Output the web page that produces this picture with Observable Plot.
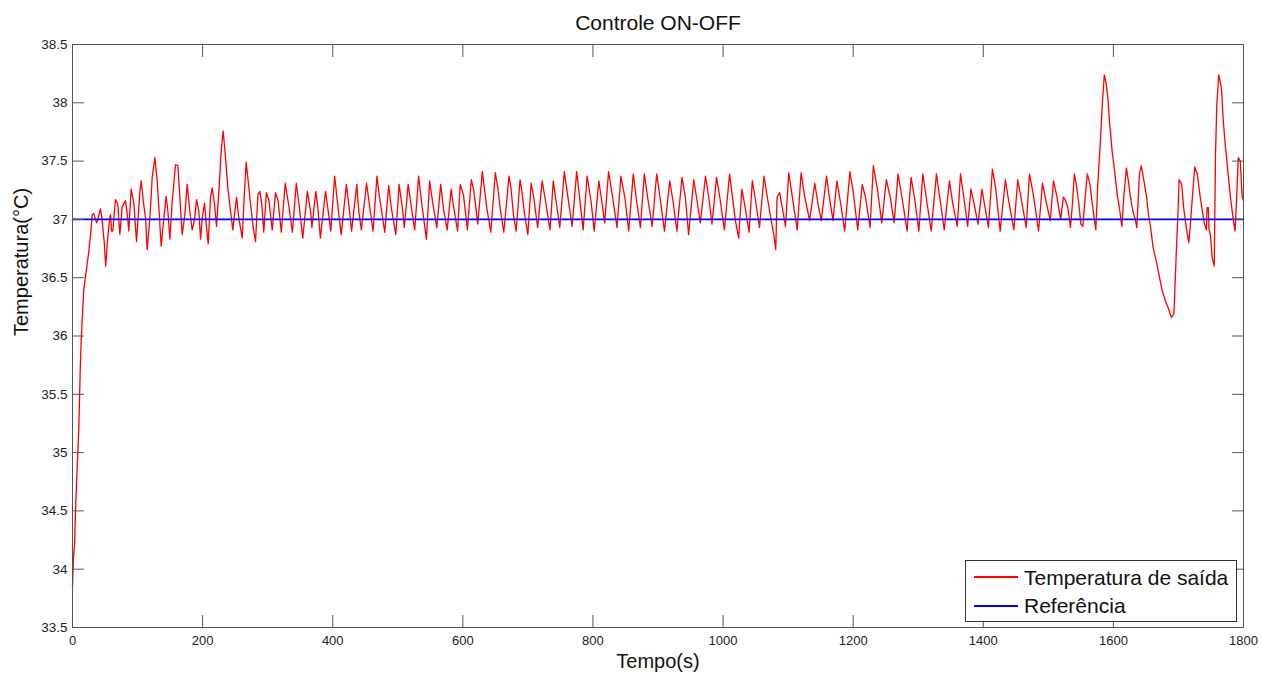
<!DOCTYPE html>
<html>
<head>
<meta charset="utf-8">
<script src="https://cdn.jsdelivr.net/npm/d3@7"></script>
<script src="https://cdn.jsdelivr.net/npm/@observablehq/plot@0.6"></script>
<style>
  body { margin: 0; background: #fff; font-family: "Liberation Sans", Arial, sans-serif; }
  #wrap { position: relative; width: 1262px; height: 675px; overflow: hidden; }
  #legend { position: absolute; left: 965px; top: 560px; width: 272px; height: 62px; box-sizing: border-box;
            border: 1px solid #333; background: #fff; }
  #legend .ln { position: absolute; left: 8px; width: 44px; height: 2px; }
  #legend .tx { position: absolute; left: 58px; font-size: 21px; line-height: 21px; color: #111; white-space: nowrap; }
</style>
</head>
<body>
<div id="wrap"></div>
<script>
const titulo = "Controle ON-OFF";
const rotuloX = "Tempo(s)";
const rotuloY = "Temperatura(°C)";
const nomesSeries = ["Temperatura de saída", "Referência"];
const coresSeries = ["#ff0000", "#0000ff"];
const xTicks = [0, 200, 400, 600, 800, 1000, 1200, 1400, 1600, 1800];
const yTicks = [33.5, 34, 34.5, 35, 35.5, 36, 36.5, 37, 37.5, 38, 38.5];

// [tempo (s), temperatura (°C)]
const temperaturaSaida = [
  [0,33.85],[1.5,34.1],[3,34.2],[4.6,34.5],[7.2,34.87],[9.7,35.2],[12.3,35.8],[14.9,36.15],[17.4,36.4],[21,36.55],[25,36.72],[28,36.88],[30.3,37.04],[32.8,37.05],
  [37,36.97],[39,37.0],[43,37.09],[45.6,36.99],[49,36.79],[51,36.6],[54.4,36.86],[57.4,37.02],[58.5,37.04],[60,36.9],[62,36.9],[66,37.17],[69.7,37.13],[72.8,36.87],[76.4,37.11],[81.5,37.16],[85,37.0],[86.6,36.9],[90.2,37.26],[94.3,37.14],[98.4,36.81],[103.5,37.23],[105.6,37.33],[108.7,37.16],[112.3,37.01],[114.8,36.74],[119,37.01],[122.5,37.36],[126.6,37.53],[130.2,37.33],[132.8,37.1],[136.3,36.77],[140.4,37.01],[144,37.2],[146.6,37.07],[149.7,36.83],[153.3,37.16],[158.4,37.47],[162,37.46],[165,37.19],[168.6,36.87],[172.7,37.04],[176.3,37.3],[180.4,37.07],[184,36.91],[187.6,37.0],[190.7,37.17],[194.2,37.07],[196.8,36.83],[199.4,37.01],[203,37.14],[205.5,36.96],[208.6,36.79],[212.2,37.19],[214.7,37.27],[218.3,37.13],[221.4,36.94],[225,37.24],[228.6,37.59],[231.6,37.76],[235.2,37.53],[238.8,37.27],[242.9,37.07],[246.5,36.91],[249,37.04],[252.1,37.19],[255.7,37.01],[260.9,36.84],[264.4,37.24],[267,37.49],[270,37.33],[273.7,37.13],[277.8,36.93],[281.4,36.81],[284.9,37.21],[288,37.24],[291,37.13],
  [294,36.89],[298,37.23],[302,37.16],[307,36.91],[312,37.23],[316,37.16],[321,36.89],[327,37.31],[333,37.1],[338,36.89],[344,37.31],[348,37.14],[354,36.84],[361,37.24],[366,37.07],[368,36.93],[374,37.24],[377,37.11],[381,36.84],[389,37.24],[394,37.03],[397,36.9],[403,37.37],[407,37.16],[413,36.87],[421,37.3],[425,37.11],[429,36.9],[437,37.3],[440,37.07],[444,36.91],[452,37.31],[457,37.1],[462,36.9],[468,37.37],[472,37.19],[480,36.89],[486,37.29],[490,37.1],[497,36.87],[502,37.3],[507,37.1],[510,36.93],[516,37.3],[521,37.1],[526,36.91],[532,37.37],[537,37.13],[544,36.83],[549,37.33],[554,37.13],[560,36.93],[566,37.3],[570,37.1],[576,36.91],[582,37.26],[586,37.1],[592,36.9],
  [596,37.3],[601,37.21],[607,36.91],[613,37.34],[617,37.24],[623,36.96],[630,37.41],[633,37.27],[637,37.09],[643,36.89],[650,37.4],[654,37.26],[658,37.07],[663,36.89],[671,37.37],[674,37.27],[678,37.03],[682,36.9],[688,37.34],[691,37.23],[695,37.04],[700,36.87],[705,37.31],[709,37.19],[715,36.93],[722,37.33],[727,37.16],[734,36.91],[739,37.33],[744,37.13],[749,36.93],[756,37.41],[761,37.21],[768,36.94],[775,37.41],[779,37.21],[785,36.91],[791,37.37],[797,37.16],[802,36.9],[809,37.33],[815,37.1],[818,36.97],[824,37.41],[830,37.2],[837,36.93],[843,37.37],[849,37.19],[855,36.9],[862,37.39],[867,37.16],[873,36.93],[879,37.39],[884,37.19],[891,36.94],[898,37.39],[903,37.19],[910,36.9],
  [918,37.33],[923,37.16],[929,36.9],[937,37.36],[942,37.19],[947,36.87],[955,37.34],[960,37.16],[965,36.97],[973,37.37],[978,37.19],[983,36.96],[990,37.36],[995,37.19],[1002,36.91],[1010,37.39],[1014,37.21],[1019,36.99],[1024,36.84],[1029,37.26],[1034,37.1],[1040,36.89],[1045,37.33],[1050,37.16],[1056,36.93],[1063,37.37],[1068,37.19],[1074,36.99],[1078,36.87],[1081,36.74],[1083,37.19],[1087,37.23],[1091,37.1],[1096,36.94],[1101,37.4],[1106,37.21],[1114,36.91],[1120,37.4],[1125,37.21],[1133,36.99],[1141,37.31],[1146,37.13],[1151,36.99],[1159,37.37],[1164,37.17],[1169,36.99],[1175,37.33],[1181,37.13],[1187,36.9],[1195,37.41],[1200,37.24],[1207,36.91],[1214,37.3],[1219,37.19],[1226,36.93],[1231,37.46],[1237,37.27],
  [1244,36.97],[1251,37.34],[1257,37.19],[1263,36.97],[1269,37.39],[1275,37.19],[1283,36.9],[1289,37.36],[1295,37.16],[1301,36.9],[1307,37.39],[1313,37.16],[1320,36.9],[1328,37.39],[1333,37.19],[1340,36.91],[1348,37.33],[1353,37.14],[1360,36.94],[1365,37.39],[1370,37.19],[1376,36.94],[1381,37.26],[1386,37.13],[1392,36.96],[1398,37.26],[1403,37.09],[1408,36.93],[1414,37.43],[1419,37.27],[1426,36.9],[1434,37.34],[1439,37.16],[1447,36.91],[1453,37.34],[1458,37.19],[1466,36.93],[1471,37.39],[1477,37.21],[1485,36.9],[1491,37.31],[1497,37.14],[1503,36.99],[1508,37.33],[1513,37.2],[1519,37.0],
  [1523,37.19],[1526,37.17],[1530,37.1],[1534,36.93],[1537,37.13],[1540,37.39],[1543,37.3],[1547,37.13],[1550,36.96],[1553,36.94],[1557,37.21],[1560,37.39],[1564,37.3],[1567,37.16],[1570,37.03],[1573,36.91],[1576,37.3],[1580,37.67],[1583,37.99],[1586,38.24],[1589,38.16],[1592,38.01],[1594,37.84],[1598,37.59],[1602,37.41],[1606,37.21],[1610,37.07],[1613,36.94],[1616,37.19],[1620,37.44],[1623,37.33],[1626,37.2],[1630,37.07],[1634,36.99],[1636,36.93],[1640,37.39],[1643,37.46],[1647,37.33],[1651,37.19],[1654,37.04],[1657,36.94],[1661,36.76],[1666,36.64],[1671,36.5],[1675,36.39],[1680,36.3],[1685,36.23],[1689,36.16],[1693,36.19],[1695,36.47],[1697,36.76],[1699,37.01],[1701,37.34],[1705,37.3],[1708,37.1],[1712,36.93],[1716,36.8],[1718,36.93],[1721,37.16],[1725,37.45],[1729,37.39],[1733,37.21],[1737,37.06],[1740,36.96],[1743,36.91],[1744,37.1],[1746,37.1],[1747,36.91],[1749,36.87],[1752,36.67],[1755,36.6],[1757,37.56],[1759,37.99],[1762,38.24],[1766,38.13],[1769,37.84],[1772,37.64],[1776,37.41],[1780,37.19],[1784,37.01],[1787,36.9],[1789,37.13],[1792,37.53],[1795,37.5],[1798,37.19],[1800,37.16]
];
const referencia = [[0, 37], [1800, 37]];

const axisColor = "#555";
const textColor = "#222";

const chart = Plot.plot({
  width: 1262,
  height: 675,
  marginLeft: 72,
  marginRight: 19,
  marginTop: 44,
  marginBottom: 48,
  style: { fontFamily: "'Liberation Sans', Arial, sans-serif", background: "#fff" },
  x: { domain: [0, 1800] },
  y: { domain: [33.5, 38.5] },
  marks: [
    Plot.line(temperaturaSaida, { x: d => d[0], y: d => d[1], stroke: coresSeries[0], strokeWidth: 1.3 }),
    Plot.line(referencia, { x: d => d[0], y: d => d[1], stroke: coresSeries[1], strokeWidth: 1.6 }),
    Plot.frame({ stroke: axisColor, strokeWidth: 1 }),
    Plot.axisX(xTicks, { anchor: "bottom", tickSize: -12, tickPadding: 20, tickFormat: d => String(d), label: null, fontSize: 13, stroke: axisColor, fill: textColor }),
    Plot.axisX(xTicks, { anchor: "top", tickSize: -12, tickFormat: () => "", label: null, stroke: axisColor }),
    Plot.axisY(yTicks, { anchor: "left", tickSize: -12, tickPadding: 17, tickFormat: d => String(d), label: null, fontSize: 13.5, stroke: axisColor, fill: textColor }),
    Plot.axisY(yTicks, { anchor: "right", tickSize: -12, tickFormat: () => "", label: null, stroke: axisColor }),
    Plot.text([titulo], { frameAnchor: "top", dy: -21, text: d => d, fontSize: 21, lineAnchor: "middle", fill: "#111" }),
    Plot.text([rotuloX], { frameAnchor: "bottom", dy: 34, text: d => d, fontSize: 20, lineAnchor: "middle", fill: "#111" }),
    Plot.text([rotuloY], { frameAnchor: "left", dx: -51, rotate: -90, text: d => d, fontSize: 20, lineAnchor: "middle", fill: "#111" })
  ]
});

const wrap = document.getElementById("wrap");
wrap.appendChild(chart);

// Legend (HTML, over the plot)
const legend = document.createElement("div");
legend.id = "legend";
const lineTops = [15, 44];
const textTops = [5.5, 33.5];
nomesSeries.forEach((nome, i) => {
  const ln = document.createElement("div");
  ln.className = "ln";
  ln.style.top = lineTops[i] + "px";
  ln.style.background = coresSeries[i];
  legend.appendChild(ln);
  const tx = document.createElement("div");
  tx.className = "tx";
  tx.style.top = textTops[i] + "px";
  tx.textContent = nome;
  legend.appendChild(tx);
});
wrap.appendChild(legend);
</script>
</body>
</html>
